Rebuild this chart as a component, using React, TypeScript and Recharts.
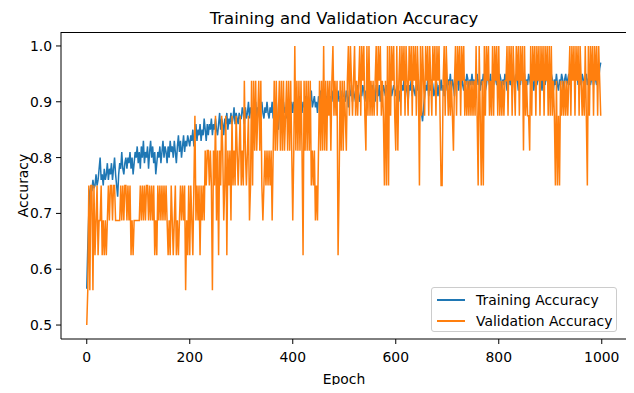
import { LineChart, Line, XAxis, YAxis } from 'recharts';

// one recorded point every 2 epochs
const EPOCH_STEP = 2;
const VAL_SIZE = 16;

// training accuracy, one row per 100 epochs
const trainAcc = [
  0.565, 0.64, 0.7, 0.74, 0.75, 0.74, 0.76, 0.745, 0.75, 0.77, 0.75, 0.76, 0.78, 0.8, 0.76, 0.77, 0.75, 0.78, 0.76, 0.77, 0.79, 0.76, 0.78, 0.77, 0.79, 0.76, 0.78, 0.8, 0.77, 0.75, 0.73, 0.77, 0.79, 0.78, 0.81, 0.78, 0.77, 0.79, 0.8, 0.78, 0.8, 0.79, 0.81, 0.78, 0.8, 0.77, 0.79, 0.81, 0.8, 0.82,
  0.79, 0.81, 0.78, 0.82, 0.8, 0.83, 0.79, 0.81, 0.8, 0.82, 0.78, 0.81, 0.83, 0.8, 0.82, 0.79, 0.81, 0.77, 0.79, 0.81, 0.8, 0.82, 0.79, 0.81, 0.83, 0.8, 0.82, 0.81, 0.79, 0.82, 0.8, 0.83, 0.81, 0.82, 0.8, 0.83, 0.81, 0.79, 0.82, 0.84, 0.81, 0.83, 0.8, 0.82, 0.84, 0.81, 0.83, 0.82, 0.84, 0.83,
  0.82, 0.84, 0.83, 0.85, 0.82, 0.84, 0.86, 0.83, 0.85, 0.84, 0.86, 0.83, 0.85, 0.84, 0.87, 0.85, 0.83, 0.86, 0.84, 0.86, 0.85, 0.87, 0.84, 0.86, 0.85, 0.87, 0.85, 0.84, 0.86, 0.88, 0.85, 0.87, 0.86, 0.84, 0.87, 0.86, 0.88, 0.85, 0.87, 0.86, 0.88, 0.86, 0.87, 0.89, 0.86, 0.88, 0.87, 0.86, 0.88, 0.87,
  0.87, 0.89, 0.88, 0.86, 0.89, 0.87, 0.88, 0.9, 0.87, 0.89, 0.88, 0.86, 0.89, 0.88, 0.9, 0.87, 0.89, 0.88, 0.87, 0.89, 0.9, 0.88, 0.87, 0.89, 0.88, 0.9, 0.88, 0.87, 0.89, 0.88, 0.9, 0.87, 0.89, 0.88, 0.9, 0.86, 0.85, 0.88, 0.89, 0.87, 0.89, 0.9, 0.88, 0.89, 0.87, 0.9, 0.88, 0.89, 0.88, 0.9,
  0.88, 0.9, 0.89, 0.91, 0.88, 0.9, 0.89, 0.91, 0.9, 0.88, 0.9, 0.89, 0.91, 0.9, 0.88, 0.91, 0.89, 0.9, 0.92, 0.89, 0.9, 0.91, 0.89, 0.9, 0.88, 0.91, 0.9, 0.92, 0.89, 0.91, 0.9, 0.89, 0.91, 0.9, 0.92, 0.9, 0.89, 0.91, 0.9, 0.92, 0.91, 0.89, 0.91, 0.9, 0.92, 0.9, 0.91, 0.89, 0.92, 0.91,
  0.91, 0.9, 0.92, 0.91, 0.89, 0.92, 0.91, 0.93, 0.9, 0.92, 0.91, 0.9, 0.92, 0.93, 0.91, 0.9, 0.92, 0.91, 0.93, 0.92, 0.9, 0.92, 0.91, 0.93, 0.91, 0.9, 0.92, 0.93, 0.91, 0.92, 0.9, 0.93, 0.92, 0.91, 0.93, 0.9, 0.92, 0.91, 0.93, 0.92, 0.91, 0.93, 0.92, 0.9, 0.92, 0.93, 0.91, 0.92, 0.93, 0.92,
  0.91, 0.93, 0.92, 0.9, 0.92, 0.91, 0.93, 0.92, 0.94, 0.91, 0.93, 0.92, 0.9, 0.93, 0.92, 0.94, 0.91, 0.93, 0.92, 0.91, 0.93, 0.92, 0.94, 0.91, 0.9, 0.88, 0.865, 0.89, 0.91, 0.93, 0.92, 0.94, 0.91, 0.93, 0.92, 0.94, 0.93, 0.91, 0.92, 0.94, 0.93, 0.91, 0.93, 0.92, 0.94, 0.92, 0.93, 0.91, 0.93, 0.94,
  0.92, 0.94, 0.93, 0.95, 0.92, 0.94, 0.93, 0.91, 0.94, 0.93, 0.95, 0.92, 0.94, 0.93, 0.95, 0.93, 0.92, 0.94, 0.93, 0.95, 0.94, 0.92, 0.94, 0.93, 0.95, 0.93, 0.94, 0.92, 0.94, 0.95, 0.93, 0.94, 0.92, 0.94, 0.93, 0.95, 0.94, 0.92, 0.93, 0.95, 0.94, 0.93, 0.95, 0.92, 0.94, 0.93, 0.95, 0.94, 0.93, 0.94,
  0.93, 0.95, 0.94, 0.92, 0.94, 0.93, 0.95, 0.94, 0.92, 0.94, 0.95, 0.93, 0.94, 0.92, 0.95, 0.94, 0.93, 0.95, 0.94, 0.92, 0.94, 0.93, 0.95, 0.94, 0.93, 0.95, 0.92, 0.94, 0.93, 0.95, 0.94, 0.93, 0.95, 0.94, 0.92, 0.94, 0.95, 0.93, 0.94, 0.95, 0.93, 0.94, 0.92, 0.95, 0.94, 0.93, 0.95, 0.94, 0.93, 0.94,
  0.93, 0.95, 0.94, 0.92, 0.94, 0.93, 0.95, 0.93, 0.92, 0.94, 0.93, 0.95, 0.94, 0.92, 0.94, 0.95, 0.93, 0.94, 0.95, 0.93, 0.95, 0.94, 0.96, 0.95, 0.94, 0.96, 0.95, 0.93, 0.95, 0.94, 0.93, 0.95, 0.94, 0.92, 0.94, 0.95, 0.93, 0.94, 0.95, 0.93, 0.94, 0.95, 0.93, 0.95, 0.94, 0.93, 0.95, 0.94, 0.96, 0.97,
];

// validation: samples correct out of 16, one row per 100 epochs
const valCorrect = [
  8, 9, 12, 9, 12, 12, 9, 12, 10, 11, 12, 10, 11, 11, 12, 10, 11, 10, 11, 10, 11, 12, 11, 12, 12, 11, 12, 12, 11, 11, 11, 11, 11, 12, 11, 12, 11, 12, 12, 11, 12, 11, 12, 10, 11, 10, 11, 11, 11, 11,
  11, 11, 12, 11, 12, 11, 12, 11, 12, 12, 11, 12, 11, 12, 11, 12, 10, 11, 10, 12, 11, 12, 11, 12, 11, 12, 11, 12, 11, 10, 11, 10, 12, 11, 10, 11, 12, 10, 11, 10, 11, 12, 11, 12, 11, 12, 9, 11, 10, 12,
  10, 12, 11, 10, 12, 14, 11, 12, 11, 12, 10, 12, 11, 12, 11, 13, 12, 13, 13, 12, 13, 12, 9, 13, 12, 14, 11, 13, 10, 13, 12, 14, 13, 11, 12, 14, 10, 13, 12, 13, 11, 14, 12, 13, 12, 14, 13, 12, 13, 14,
  12, 13, 12, 15, 13, 12, 13, 14, 11, 12, 15, 12, 15, 13, 15, 13, 14, 15, 13, 15, 12, 11, 12, 13, 12, 13, 12, 13, 12, 13, 11, 13, 15, 13, 15, 13, 14, 15, 13, 15, 13, 15, 13, 14, 15, 13, 15, 13, 15, 13,
  11, 13, 16, 13, 15, 13, 15, 13, 15, 13, 10, 15, 13, 15, 13, 15, 13, 15, 12, 13, 12, 13, 11, 12, 11, 13, 15, 13, 15, 13, 16, 13, 15, 13, 15, 14, 15, 13, 15, 16, 14, 15, 14, 15, 10, 12, 15, 13, 15, 13,
  15, 14, 13, 15, 16, 14, 16, 15, 14, 15, 16, 14, 15, 14, 15, 16, 14, 16, 15, 16, 14, 13, 16, 14, 16, 14, 15, 14, 15, 14, 15, 16, 14, 16, 15, 16, 14, 15, 14, 12, 15, 12, 16, 12, 16, 14, 16, 15, 16, 14,
  13, 16, 13, 15, 16, 14, 16, 15, 16, 14, 16, 15, 14, 16, 15, 16, 14, 16, 15, 16, 14, 16, 15, 12, 16, 14, 16, 15, 14, 16, 15, 16, 14, 16, 15, 14, 16, 15, 16, 14, 16, 15, 16, 14, 12, 12, 15, 16, 14, 16,
  15, 14, 15, 14, 15, 14, 13, 15, 16, 14, 16, 15, 16, 14, 16, 15, 16, 14, 15, 14, 15, 14, 15, 14, 15, 14, 15, 14, 16, 14, 12, 16, 14, 12, 15, 12, 16, 14, 16, 15, 16, 14, 15, 14, 16, 14, 16, 15, 16, 14,
  16, 14, 15, 14, 15, 14, 15, 15, 16, 14, 16, 15, 16, 14, 16, 15, 14, 16, 15, 16, 14, 16, 15, 16, 13, 16, 14, 15, 14, 14, 13, 16, 14, 16, 15, 16, 14, 16, 15, 16, 14, 16, 15, 16, 14, 16, 15, 16, 14, 16,
  14, 16, 14, 15, 14, 12, 15, 12, 14, 12, 15, 14, 15, 14, 15, 14, 15, 14, 15, 16, 14, 16, 15, 16, 14, 16, 15, 16, 14, 16, 15, 14, 15, 14, 16, 14, 12, 16, 14, 16, 15, 16, 14, 16, 15, 16, 14, 16, 15, 14,
];

const xTicks = [0, 200, 400, 600, 800, 1000];
const yTicks = [0.5, 0.6, 0.7, 0.8, 0.9, 1.0];
const X_DOMAIN: [number, number] = [-50, 1049];
const Y_DOMAIN: [number, number] = [0.475, 1.025];

const data = trainAcc.map((t, i) => ({
  epoch: i * EPOCH_STEP,
  train: t,
  val: valCorrect[i] / VAL_SIZE,
}));

const FONT = '"DejaVu Sans", sans-serif';
const BLUE = '#1f77b4';
const ORANGE = '#ff7f0e';

export default function App() {
  return (
    <div style={{ position: 'relative', margin: -8, width: 634, height: 393, background: '#fff', fontFamily: FONT }}>
      <div style={{ position: 'absolute', left: 61, width: 566, top: 9, textAlign: 'center', fontSize: 16.5, color: '#000' }}>
        Training and Validation Accuracy
      </div>
      <LineChart width={634} height={393} data={data} margin={{ top: 32, right: 7, bottom: 0, left: 0 }}>
        <XAxis
          dataKey="epoch"
          type="number"
          domain={X_DOMAIN}
          ticks={xTicks}
          allowDataOverflow
          height={54}
          tickSize={5}
          tickMargin={8}
          stroke="#000"
          tick={{ fill: '#000', fontSize: 13.9, fontFamily: FONT }}
          label={{ value: 'Epoch', position: 'insideBottom', offset: 9, fill: '#000', fontSize: 13.9, fontFamily: FONT }}
        />
        <YAxis
          type="number"
          domain={Y_DOMAIN}
          ticks={yTicks}
          allowDataOverflow
          width={61}
          tickSize={5}
          tickMargin={4}
          stroke="#000"
          tickFormatter={(v: number) => v.toFixed(1)}
          tick={{ fill: '#000', fontSize: 13.9, fontFamily: FONT }}
          label={{ value: 'Accuracy', angle: -90, position: 'center', dx: -7, fill: '#000', fontSize: 13.9, fontFamily: FONT }}
        />
        <Line type="linear" dataKey="train" stroke={BLUE} strokeWidth={1.5} dot={false} isAnimationActive={false} />
        <Line type="linear" dataKey="val" stroke={ORANGE} strokeWidth={1.5} dot={false} isAnimationActive={false} />
      </LineChart>
      {/* axes box: top and right spines */}
      <svg width={634} height={393} style={{ position: 'absolute', left: 0, top: 0, pointerEvents: 'none', zIndex: 5 }}>
        <polyline points="61,32.5 627.5,32.5 627.5,339" fill="none" stroke="#000" strokeWidth={1} />
      </svg>
      <div
        style={{
          position: 'absolute', left: 431, top: 287, width: 186, height: 45, zIndex: 6,
          border: '1px solid #cccccc', borderRadius: 3, background: 'rgba(255,255,255,0.8)',
          fontSize: 13.9, color: '#000', boxSizing: 'border-box',
        }}
      >
        {[{ name: 'Training Accuracy', color: BLUE }, { name: 'Validation Accuracy', color: ORANGE }].map((it, i) => (
          <div key={it.name} style={{ position: 'absolute', left: 5, top: 3 + i * 21, height: 18, display: 'flex', alignItems: 'center' }}>
            <span style={{ display: 'inline-block', width: 28, height: 0, borderTop: `2px solid ${it.color}`, marginRight: 11 }} />
            <span style={{ whiteSpace: 'nowrap' }}>{it.name}</span>
          </div>
        ))}
      </div>
    </div>
  );
}
